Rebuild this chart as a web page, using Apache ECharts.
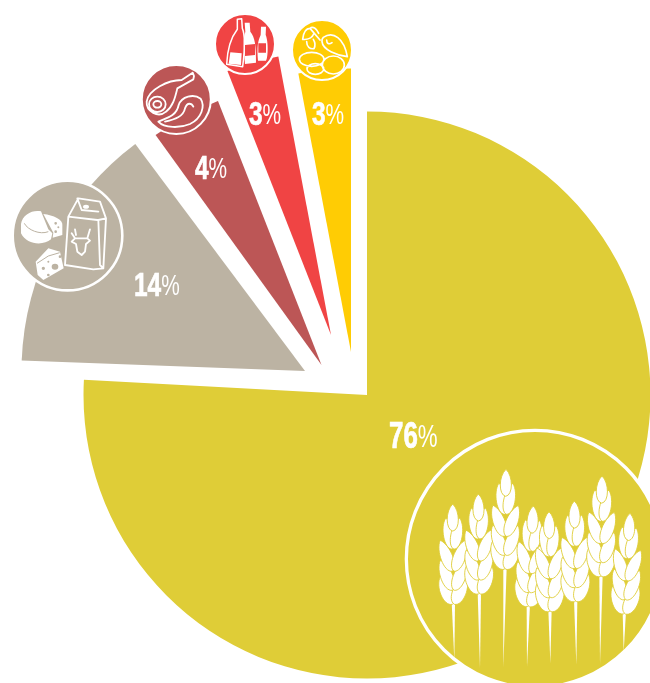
<!DOCTYPE html>
<html><head><meta charset="utf-8">
<style>html,body{margin:0;padding:0;background:#fff}#c{width:650px;height:683px}</style>
<script src="https://cdn.jsdelivr.net/npm/echarts@6/dist/echarts.min.js"></script>
</head><body><div id="c"></div>
<script>
const categories = ['Cereals','Dairy','Meat','Beverages','Fruit and vegetables'];
const shares = [75.85,14.2,4,2.975,2.975];
const colours = ['#DFCD37','#BCB3A3','#BC5656','#F04444','#FFCC04'];
const apexes = [[367,395],[305,371],[321.5,365],[331,335],[351,352]];
const turn = [0,0.95,0,0,0];
const labelAt = [[389,423],[134,273],[195,156],[249,102],[312,102]];
const RADIUS = 283.5;

const chart = echarts.init(document.getElementById('c'),null,{renderer:'canvas'});
const reg = (n,d)=>echarts.graphic.registerShape(n,echarts.graphic.extendPath(d,{}));
const ell=(cx,cy,rx,ry)=>`M${cx-rx},${cy}A${rx},${ry},0,1,1,${cx+rx},${cy}A${rx},${ry},0,1,1,${cx-rx},${cy}Z`;

/* wheat: each grain is its own shape, painted bottom-up so upper grains nest over lower ones */
const ears=[[158,252,160,553,163,720],[235,222,238,522,240,745],[318,148,315,448,310,742],[400,258,385,560,381,740],
 [447,275,450,575,451,730],[523,243,527,545,529,735],[606,168,603,470,600,733],[690,280,673,582,671,695]];
const grains=[[0,0,0,27,7.4],[7,14,1,45,7.6],[12.7,36,1,67,8],[12.7,56,1,86,8.2],[12.7,72,1,100,9]];
const wheatEls=[];
function addEar(e,n,nextZ){
  const [tx,ty,bx,by,sx,sy]=e.map((v,i)=>i%2?420+v/3:400+v/3);
  const L=Math.hypot(bx-tx,by-ty),ux=(bx-tx)/L,uy=(by-ty)/L,k=L/100;
  const P=(a,d)=>[tx+ux*d*k-uy*a*k, ty+uy*d*k+ux*a*k].map(v=>v.toFixed(2)).join(',');
  reg('stem'+n,`M${(bx-1.7).toFixed(2)},${(by-3).toFixed(2)}L${(bx+1.7).toFixed(2)},${(by-3).toFixed(2)}L${sx.toFixed(2)},${sy.toFixed(2)}Z`);
  wheatEls.push({type:'stem'+n,z:nextZ(),style:{fill:'#fff'}});
  for(let i=grains.length-1;i>=0;i--){
    const [a,d,a2,d2,w]=grains[i];
    (i?[1,-1]:[1]).forEach(m=>{
      const A=a*m,B=a2*m,dx=B-A,dy=d2-d,len=Math.hypot(dx,dy),na=dy/len*w,nd=-dx/len*w;
      const name=`g${n}_${i}_${m}`;
      reg(name,`M${P(A,d)}C${P(A+dx*.25+na,d+dy*.25+nd)},${P(A+dx*.95+na,d+dy*.95+nd)},${P(B,d2)}`+
         `C${P(A+dx*.95-na,d+dy*.95-nd)},${P(A+dx*.25-na,d+dy*.25-nd)},${P(A,d)}Z`);
      wheatEls.push({type:name,z:nextZ(),style:{fill:'#fff',stroke:colours[0],lineWidth:0.9}});
    });
  }
}

/* icons, drawn at 3x and scaled down */
reg('yLine',ell(545,178,37,21)+ell(556,207,25,16)+ell(610,195,33,27)+
 'M580,112C610,92,642,115,652,170C620,165,578,150,576,125C575,118,578,114,580,112Z M590,120C590,130,596,135,606,128'+
 'M570,120L540,85M540,85C525,85,520,100,518,118C535,120,548,112,552,100M530,125C530,140,540,148,552,146C556,138,556,128,550,118M540,85C548,78,560,85,566,100');
reg('rLine','M322,58L335,56L337,85C346,105,346,135,338,200L290,193C292,150,305,110,322,88Z');
reg('rFill','M344,68L359,68L361,95C375,112,378,135,378,188L345,192C342,150,338,120,346,95Z M393,80L408,80L407,105C416,125,414,175,408,182L384,182C380,140,384,122,392,105Z');
reg('rLabel','M345,135L375,132L375,165L345,168Z M385,130L408,130L408,158L385,158Z');
reg('rLabel2','M301,157L335,160L333,195L296,191Z');
reg('mLine','M188,218L155,240C115,240,55,268,50,305C48,335,85,355,108,335C128,320,135,295,142,265L190,238L192,228Z'+ell(82,313,25,23)+ell(82,313,12,10)+
 'M85,365C118,352,140,345,146,315C155,290,190,280,212,296C226,318,215,355,180,372C150,385,103,385,85,365Z M105,365C135,358,160,350,165,325C172,305,185,310,190,320');
/* cheese, drawn in a 3x crop starting at (15,200) */
reg('cFill','M18,72C22,42,55,28,78,34L100,88L112,100L108,118C85,138,35,135,18,100Z'+
 'M85,42C115,45,145,60,142,75L142,105L113,113L115,98Z'+
 'M62,185L100,145L135,155L146,205L85,240L68,225Z');
reg('cHole',ell(122,70,4,4)+ell(130,82,3,3)+ell(122,95,4,4)+ell(120,200,10,9)+ell(85,205,5,5)+ell(100,225,4,4)+ell(135,170,4,4)+ell(100,185,3,3));
reg('cArc','M28,70C38,90,75,105,100,95 M66,190L100,168L134,158');
reg('bLine','M205,140L235,85L300,95L318,145L295,150L300,285L310,295L280,298L195,285Z M205,140L292,150 M232,85L245,120L295,125 M295,150L318,145L310,295 M215,190L225,205L262,205L270,178M225,205L215,215L228,222L232,245L245,255L255,245L258,222L270,212L262,205 M225,178L228,195');
reg('bSmall',ell(258,110,9,6));

const series = shares.map((_,k)=>({
  type:'pie',center:apexes[k],radius:[0,RADIUS],startAngle:90+turn[k],clockwise:true,silent:true,animation:false,
  label:{show:false},labelLine:{show:false},
  data:shares.map((v,i)=>({name:categories[i],value:v,itemStyle:{color:i===k?colours[i]:'rgba(0,0,0,0)'}}))
}));

let Z=10;
const nextZ=()=>Z++;
const disc=(x,y,r,c,lw)=>({type:'circle',z:Z++,shape:{cx:x,cy:y,r:r+lw/2},style:{fill:c,stroke:'#fff',lineWidth:lw}});
const icon=(t,ox,oy,st)=>({type:t,z:Z++,x:ox,y:oy,scaleX:1/3,scaleY:1/3,style:st});
const W='#fff',line=(lw=4.5)=>({fill:null,stroke:W,lineWidth:lw,lineJoin:'round',lineCap:'round'});
const ringEl=disc(535,559,127,colours[0],3.3);
ears.forEach((e,n)=>addEar(e,n,nextZ));
const els=[
 ringEl,...wheatEls,
 disc(67.5,235.6,53.5,colours[1],2.6),
 icon('cFill',15,200,{fill:W}),icon('cHole',15,200,{fill:colours[1]}),icon('cArc',15,200,{fill:null,stroke:colours[1],lineWidth:3}),
 icon('bLine',0,170,line(5.5)),icon('bSmall',0,170,{fill:W}),
 disc(176.3,99.5,33.5,colours[2],2),
 icon('mLine',130,0,line(5.5)),
 disc(245,44,29,colours[3],2),
 icon('rFill',130,0,{fill:W}),icon('rLine',130,0,line(4.5)),
 icon('rLabel',130,0,{fill:colours[3]}),icon('rLabel2',130,0,{fill:W}),
 disc(322,50,29,colours[4],2),
 icon('yLine',130,0,line(5))
];
shares.forEach((v,i)=>{
  const big=i===0;
  els.push({type:'text',z:Z++,x:labelAt[i][0],y:labelAt[i][1]-3,scaleX:0.72,scaleY:1,
    style:{text:`{a|${Math.round(v)}}{b|%}`,fill:W,rich:{
      a:{fontFamily:'Liberation Sans',fontWeight:'bold',fontSize:big?36:34,fill:W,lineHeight:big?36:33,stroke:W,lineWidth:0.7},
      b:{fontFamily:'Liberation Sans',fontWeight:'normal',fontSize:big?31:29,fill:W,lineHeight:big?36:33}}}});
});
chart.setOption({animation:false,backgroundColor:'#fff',series,graphic:{elements:els}});
</script></body></html>
